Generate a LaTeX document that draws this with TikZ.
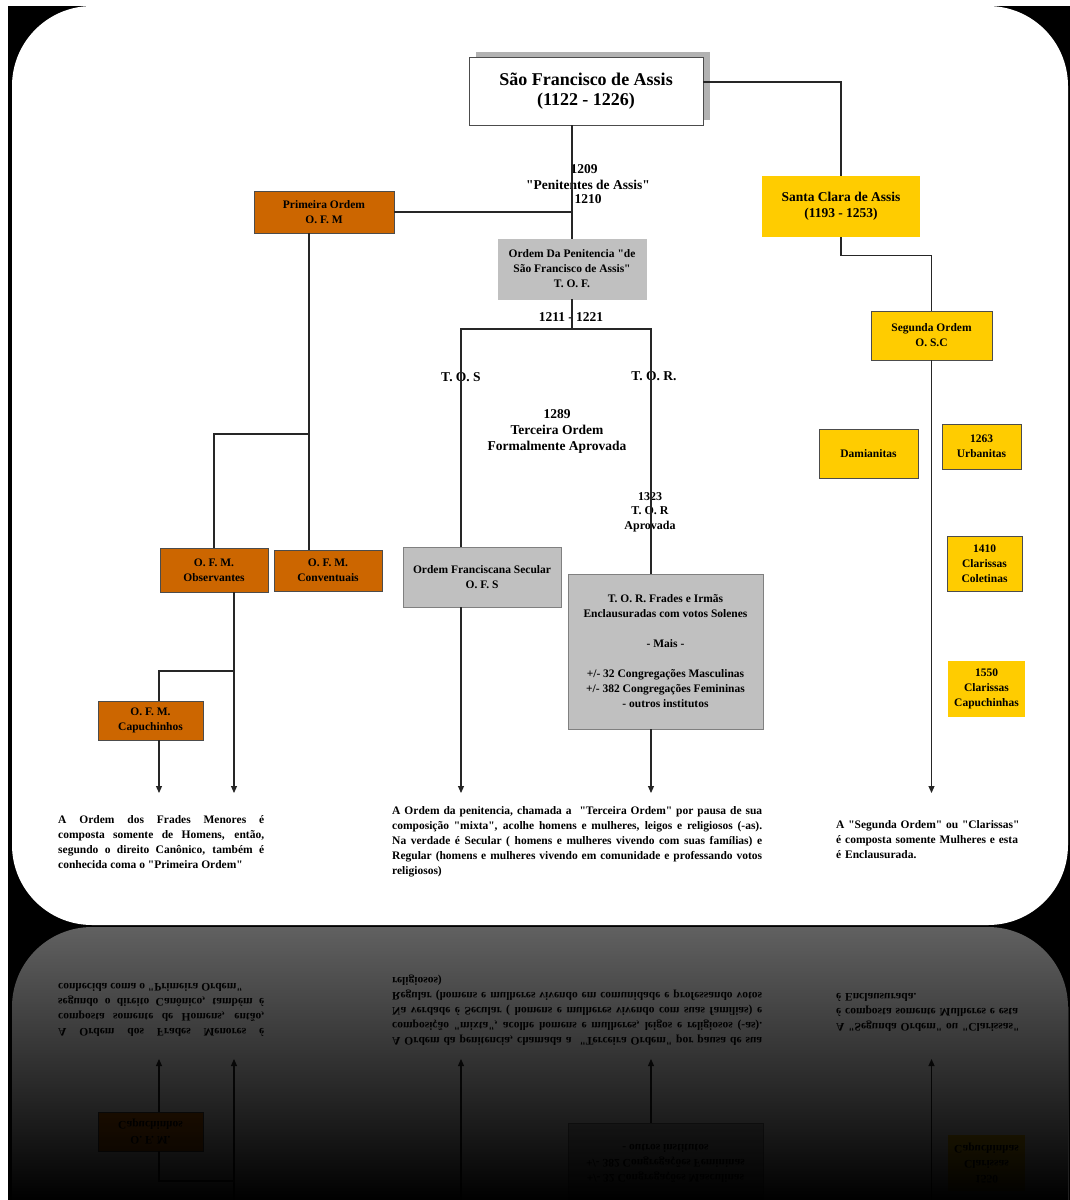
\documentclass[tikz,border=0pt]{standalone}
\usepackage{fontspec}
\setmainfont{Liberation Serif}[Ligatures=TeXOff]
\usetikzlibrary{arrows.meta,shadows,fadings}

\definecolor{ofmorange}{HTML}{CC6600}
\definecolor{clarayellow}{HTML}{FFCC00}
\definecolor{tofgrey}{HTML}{C0C0C0}

\tikzfading[name=reflfade, top color=transparent!38, bottom color=transparent!0]

% the whole chart, drawn once and once more for the reflection
\newcommand{\franchart}{%
\coordinate (fim) at (0,793);
\node[box, fill=white, minimum width=234pt, minimum height=68pt,
  font=\fontsize{18}{20}\selectfont\bfseries,
  drop shadow={shadow xshift=7pt, shadow yshift=5pt, fill=black!30, opacity=1}]
  (fran) at (586,91) {São Francisco de Assis\\(1122 - 1226)};
\coordinate (franr) at (703,82);
\node[ofm, minimum width=140pt, minimum height=42pt] (ofm) at (324,212) {Primeira Ordem\\O. F. M};
\node[tof, draw=tofgrey, minimum width=148pt, minimum height=60pt] (pen) at (572,269)
  {Ordem Da Penitencia "de\\São Francisco de Assis"\\T. O. F.};
\node[osc, draw=none, minimum width=158pt, minimum height=61pt,
  font=\fontsize{13.5}{16}\selectfont\bfseries] (clara) at (841,206.5)
  {Santa Clara de Assis\\(1193 - 1253)};
\node[osc, minimum width=121pt, minimum height=49pt] (osc) at (931.5,335.5) {Segunda Ordem\\O. S.C};
\node[osc, minimum width=99pt, minimum height=49pt] (dam) at (868.5,453.5) {Damianitas};
\node[osc, minimum width=79pt, minimum height=45pt] (urb) at (981.5,446.5) {1263\\Urbanitas};
\node[osc, minimum width=75pt, minimum height=55pt] (col) at (984.5,563.5) {1410\\Clarissas\\Coletinas};
\node[osc, draw=none, minimum width=77pt, minimum height=56pt] (cap) at (986.5,689) {1550\\Clarissas\\Capuchinhas};
\node[ofm, minimum width=108pt, minimum height=44pt] (obs) at (214,570) {O. F. M.\\Observantes};
\node[ofm, minimum width=108pt, minimum height=41pt] (conv) at (328,570.5) {O. F. M.\\Conventuais};
\node[ofm, minimum width=105pt, minimum height=39pt] (capu) at (150.5,720.5) {O. F. M.\\Capuchinhos};
\node[tof, minimum width=158pt, minimum height=60pt] (ofs) at (482,577) {Ordem Franciscana Secular\\O. F. S};
\node[tof, minimum width=195pt, minimum height=155pt] (tor) at (665.5,651.5)
  {T. O. R. Frades e Irmãs\\Enclausuradas com votos Solenes\\[15pt]- Mais -\\[15pt]%
   +/- 32 Congregações Masculinas\\+/- 382 Congregações Femininas\\- outros institutos};
% labels on the lines
\node[lbl] (l1209) at (584,169) {1209};
\node[lbl] (lpen) at (588,185) {"Penitentes de Assis"};
\node[lbl] (l1210) at (588,199) {1210};
\node[lbl] (lsplit) at (571,317) {1211 - 1221};
\node[lbl] (ltos) at (461,377) {T. O. S};
\node[lbl] (ltor) at (654,376) {T. O. R.};
\node[lbl] (l1289) at (557,431) {1289\\Terceira Ordem\\Formalmente Aprovada};
\node[lbl, font=\fontsize{12}{14.5}\selectfont\bfseries] (l1323) at (650,512) {1323\\T. O. R\\Aprovada};
% connectors
\coordinate (tos) at (461,329);
\coordinate (torc) at (651,329);
\coordinate (ofmx) at (309,434);
\coordinate (obsx) at (234,671);
\coordinate (capx) at (159,671);
\draw[link] (pen.north) -- (pen.north |- fran.south);
\draw[link] (ofm.east) -- (ofm.east -| pen.north);
\draw[link] (franr) -| (clara.north);
\draw[link] (clara.south) -- ++(0,18) -| (osc.north);
\draw[link, ->] (osc.south) -- (osc.south |- fim);
\draw[link] (pen.south) -- (pen.south |- tos);
\draw[link] (tos |- ofs.north) -- (tos) -- (torc) -- (torc |- tor.north);
\draw[link, ->] (tos |- ofs.south) -- (tos |- fim);
\draw[link, ->] (torc |- tor.south) -- (torc |- fim);
\draw[link] (ofmx |- ofm.south) -- (ofmx |- conv.north);
\draw[link] (ofmx) -| (obs.north);
\draw[link, ->] (obsx |- obs.south) -- (obsx |- fim);
\draw[link] (obsx) -- (capx) -- (capx |- capu.north);
\draw[link, ->] (capx |- capu.south) -- (capx |- fim);
% notes
\node[note, text width=206pt, align=justify] (nofm) at (58,815)
  {A Ordem dos Frades Menores é\linebreak composta somente de Homens, então,\linebreak
   segundo o direito Canônico, também é\linebreak conhecida coma o "Primeira Ordem"};
\node[note, text width=370pt, align=justify] (ntof) at (392,806)
  {A Ordem da penitencia, chamada a~ "Terceira Ordem" por pausa de sua\linebreak
   composição "mixta", acolhe homens e mulheres, leigos e religiosos (-as).\linebreak
   Na verdade é Secular ( homens e mulheres vivendo com suas famílias) e\linebreak
   Regular (homens e mulheres vivendo em comunidade e professando votos\linebreak religiosos)};
\node[note, text width=215pt, align=left] (nosc) at (836,820)
  {A "Segunda Ordem" ou "Clarissas"\\é composta somente Mulheres e esta\\é Enclausurada.};
}

\begin{document}
\begin{tikzpicture}[x=1pt, y=-1pt,
  every node/.style={align=center, font=\fontsize{11.5}{15}\selectfont\bfseries},
  box/.style={draw=black!70, line width=0.8pt, inner sep=2pt},
  ofm/.style={box, fill=ofmorange},
  osc/.style={box, fill=clarayellow},
  tof/.style={box, fill=tofgrey, draw=black!50},
  lbl/.style={inner sep=0pt, font=\fontsize{13.5}{16}\selectfont\bfseries},
  note/.style={anchor=north west, inner sep=0pt},
  link/.style={draw=black!85, line width=1.1pt},
  >={Triangle[length=7pt, width=6pt]}
]
\useasboundingbox (0,0) rectangle (1070,1200);
\fill[white] (0,0) rectangle (1070,1200);
\fill[black] (8,6) rectangle (1070,1200);
\fill[white, rounded corners=80pt] (12,6) rectangle (1068,925);

\franchart

% reflection
\begin{scope}
  \clip (8,927) rectangle (1070,1200);
  \begin{scope}[yshift=-1852pt, yscale=-1, transform shape]
    \fill[white, rounded corners=80pt] (12,6) rectangle (1068,925);
    \franchart
  \end{scope}
  \fill[black, path fading=reflfade] (8,927) rectangle (1070,1200);
\end{scope}
\end{tikzpicture}
\end{document}
